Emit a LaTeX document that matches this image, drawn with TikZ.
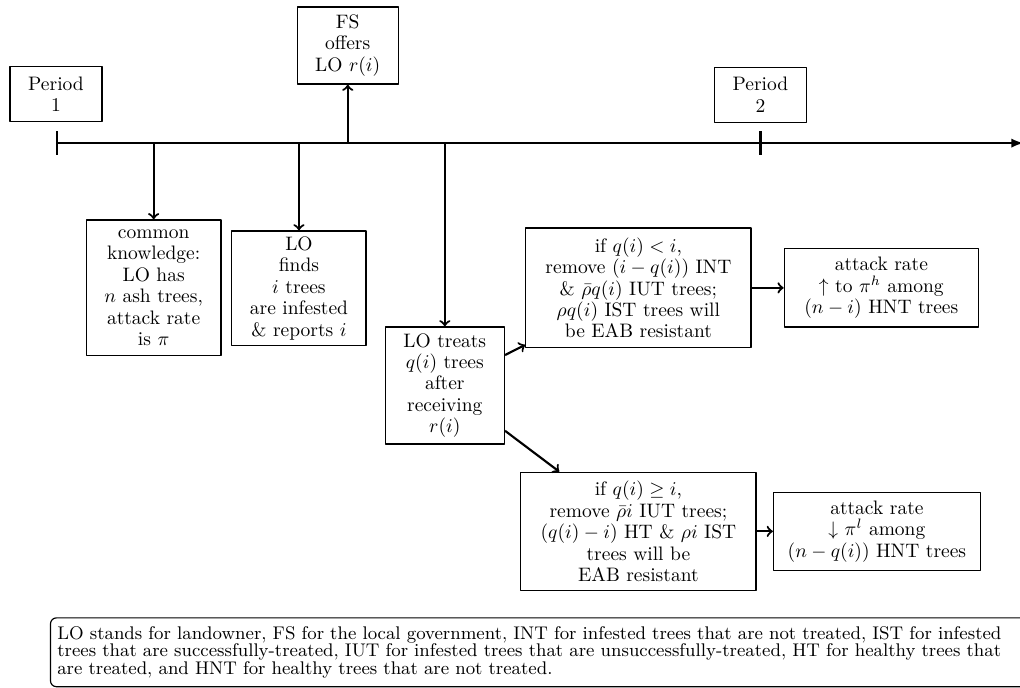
\documentclass[tikz,border=0pt]{standalone}
\usetikzlibrary{arrows}
\tikzset{
  box/.style={draw, semithick, align=center, inner sep=2pt, font=\fontsize{10}{11}\selectfont},
  link/.style={line width=1.1pt, ->},
}
\begin{document}
\begin{tikzpicture}[line join=round]
			\clip (-1.03,-9.81) rectangle (17.36,2.58);
			\coordinate (O) at (0,0);
			\coordinate (E) at (17.42,0);
			\coordinate (P2) at (12.68,0);
			\coordinate (t1) at (1.74,0);
			\coordinate (t2) at (4.36,0);
			\coordinate (t3) at (5.24,0);
			\coordinate (t4) at (6.99,0);
			
			\draw[line width=1.1pt,-latex] (O) -- (E);
			\draw[line width=1.1pt] (0,0.21) -- (0,-0.21);
			\draw[line width=1.1pt] ([yshift=0.21cm]P2) -- ([yshift=-0.21cm]P2);
			
			\node[box, minimum width=1.66cm, minimum height=0.99cm] (per1) at (-0.02,0.88) {Period\\1};
			\node[box, minimum width=1.66cm, minimum height=0.99cm] (per2) at (12.68,0.87) {Period\\2};
			\node[box, minimum width=1.82cm, minimum height=1.39cm] (fs) at (5.24,1.76) {FS\\offers\\LO $r(i)$};
			\node[box, minimum width=2.43cm, minimum height=2.45cm] (know) at (1.74,-2.61) {common\\knowledge:\\LO has\\$n$ ash trees,\\attack rate\\is $\pi$};
			\node[box, minimum width=2.42cm, minimum height=2.07cm] (find) at (4.36,-2.62) {LO\\finds\\$i$ trees\\are infested\\\& reports $i$};
			\node[box, minimum width=2.15cm, minimum height=2.11cm] (treat) at (6.99,-4.37) {LO treats\\$q(i)$ trees\\after\\receiving\\$r(i)$};
			\node[box, minimum width=4.06cm, minimum height=2.16cm] (less) at (10.48,-2.61) {if $q(i)<i$,\\remove $(i-q(i))$ INT\\\& $\bar{\rho}q(i)$ IUT trees;\\$\rho q(i)$ IST trees will\\be EAB resistant};
			\node[box, minimum width=3.50cm, minimum height=1.41cm] (up) at (14.86,-2.61) {attack rate\\$\uparrow$ to $\pi^h$ among\\$(n-i)$ HNT trees};
			\node[box, minimum width=4.24cm, minimum height=2.13cm] (geq) at (10.48,-7.00) {if $q(i)\geq i$,\\remove $\bar{\rho}i$ IUT trees;\\$(q(i)-i)$ HT \& $\rho i$ IST\\trees will be\\EAB resistant};
			\node[box, minimum width=3.73cm, minimum height=1.41cm] (down) at (14.78,-7.00) {attack rate\\$\downarrow$ $\pi^l$ among\\$(n-q(i))$ HNT trees};
			
			\draw[link] (t1) -- (know);
			\draw[link] (t2) -- (find);
			\draw[link] (t3) -- (fs);
			\draw[link] (t4) -- (treat);
			\draw[link] (treat) -- (less);
			\draw[link] (treat) -- (geq);
			\draw[link] (less) -- (up);
			\draw[link] (geq) -- (down);
			
			\node[draw, semithick, rounded corners=3pt, anchor=north west, align=left, text width=19cm, minimum height=1.24cm, inner xsep=3.5pt, inner ysep=2pt, font=\fontsize{9.4}{9}\selectfont] (note) at (-0.13,-8.55) {LO stands for landowner, FS for the local government, INT for infested trees that are not treated, IST for infested\\trees that are successfully-treated, IUT for infested trees that are unsuccessfully-treated, HT for healthy trees that\\are treated, and HNT for healthy trees that are not treated.};
		\end{tikzpicture}
\end{document}
